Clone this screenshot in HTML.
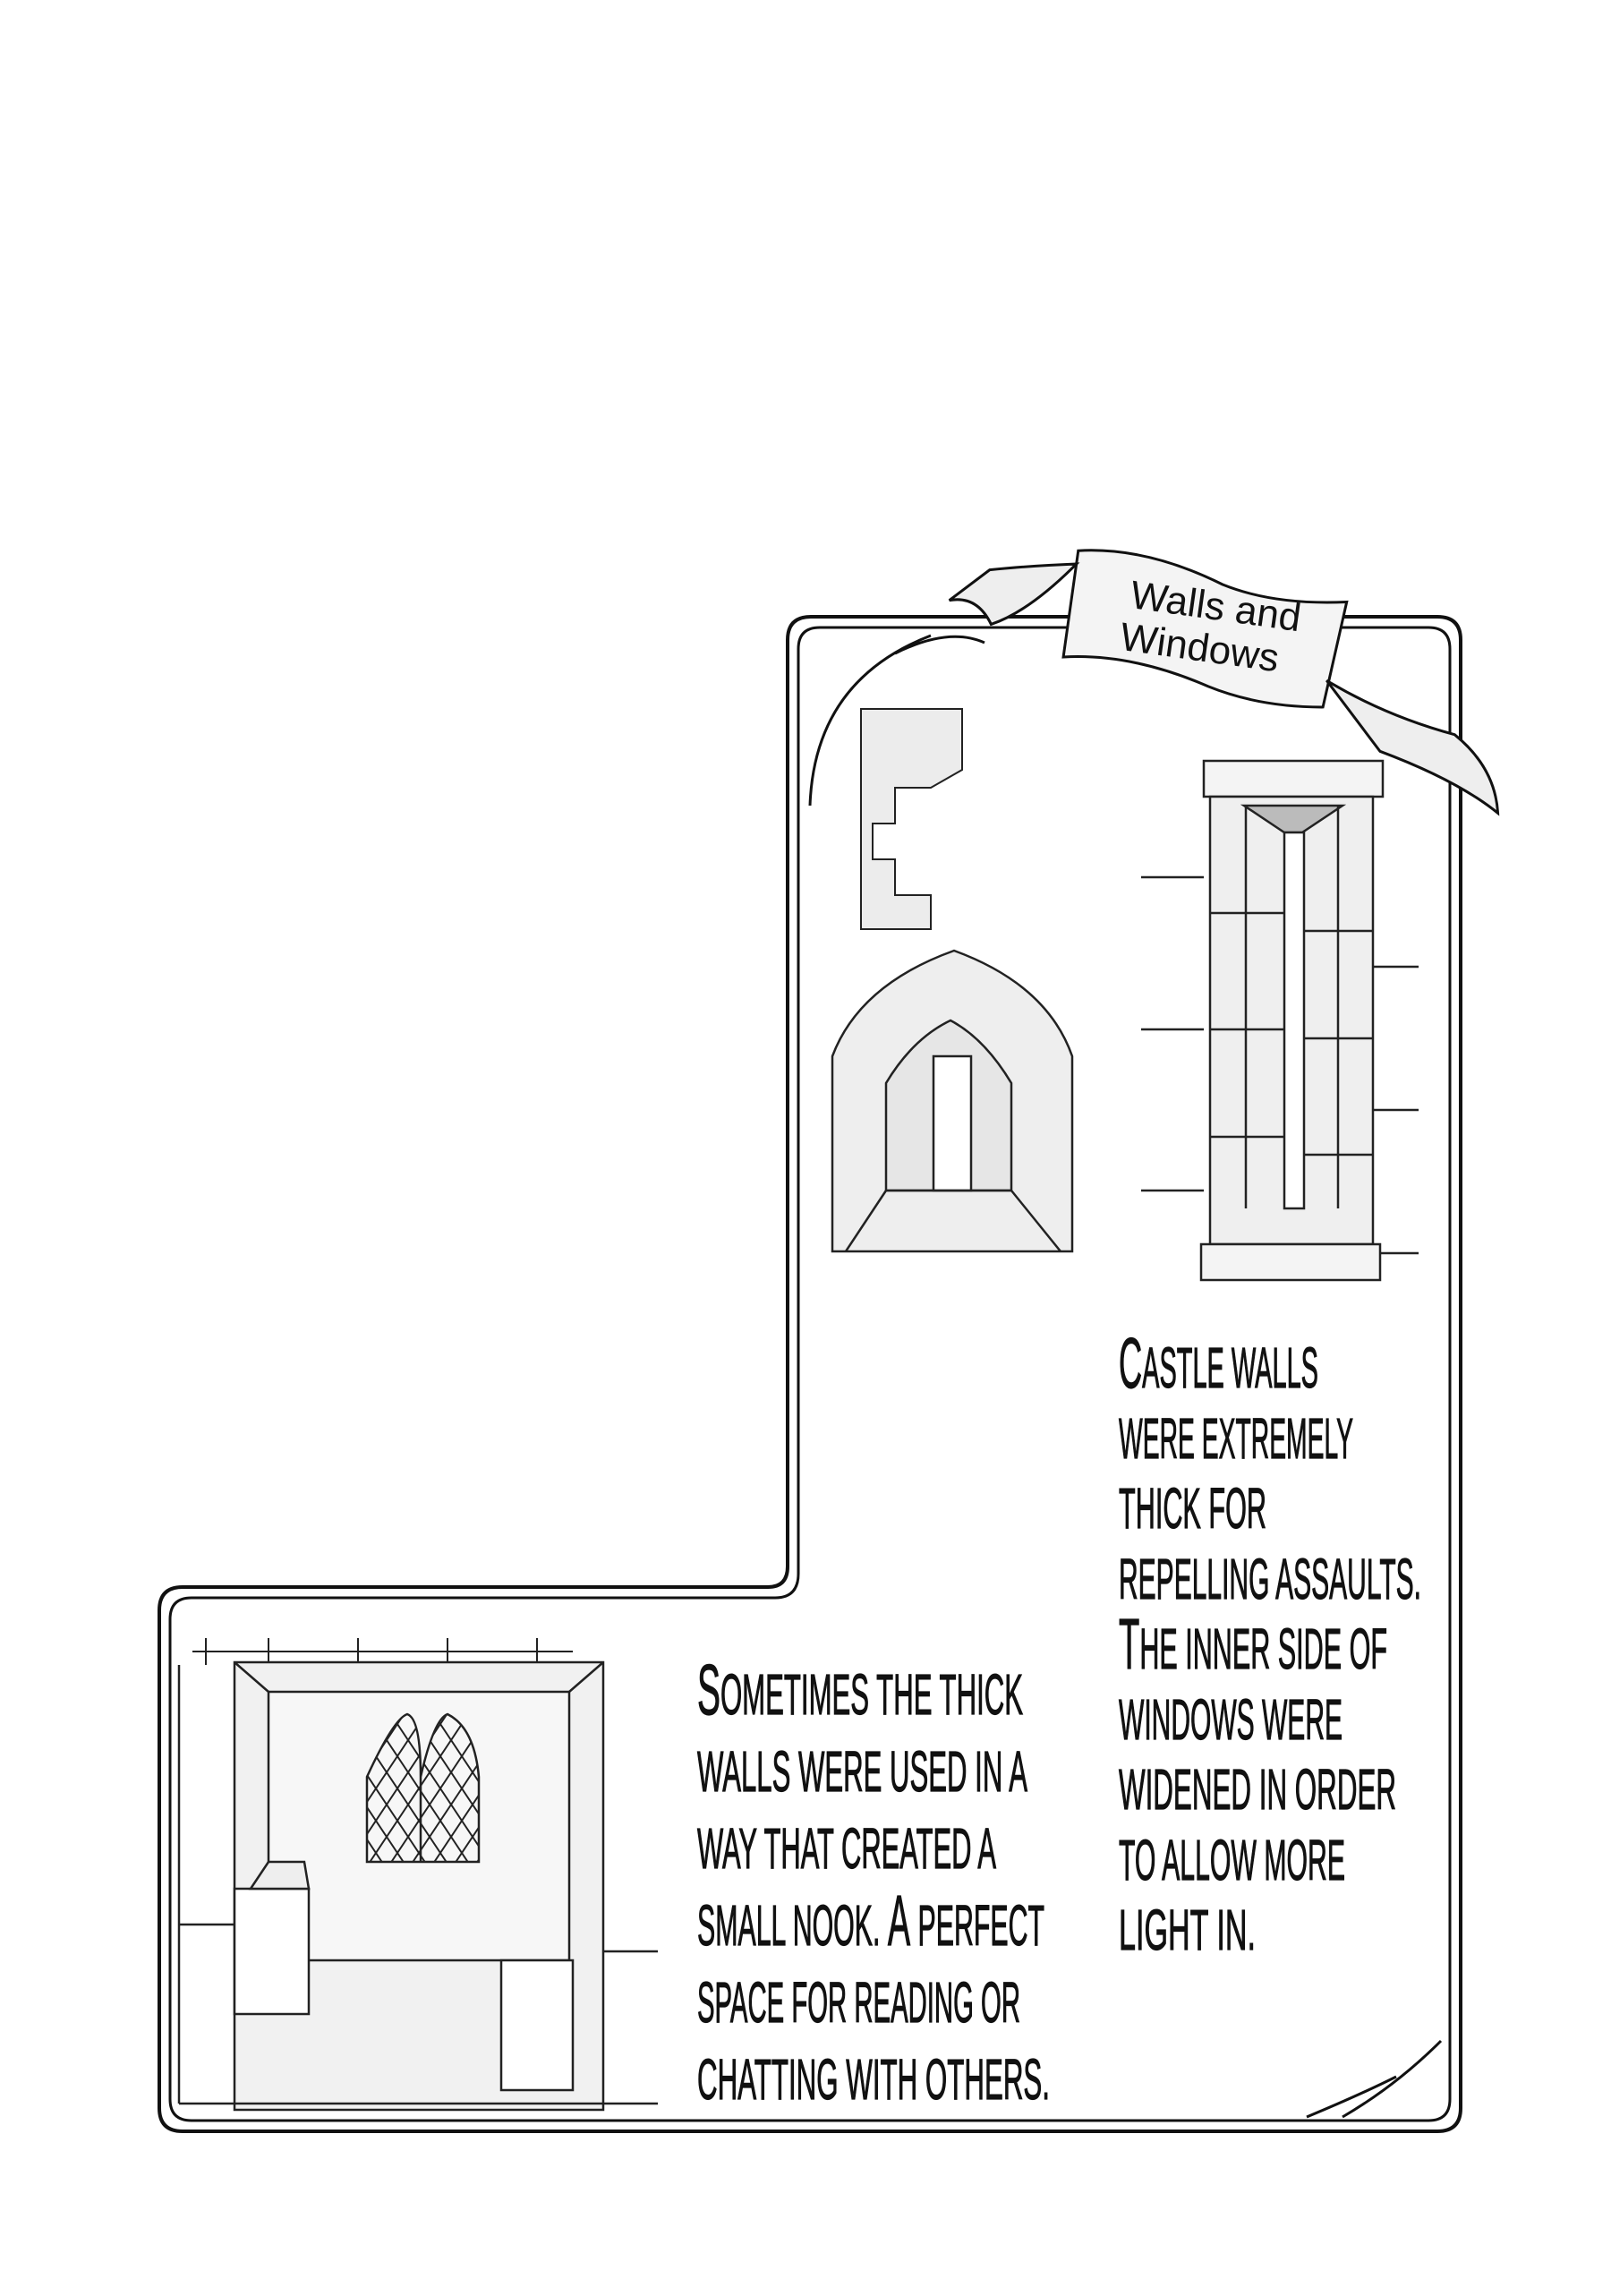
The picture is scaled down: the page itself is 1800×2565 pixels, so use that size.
<!DOCTYPE html>
<html><head><meta charset="utf-8"><style>
html,body{margin:0;padding:0;background:#fff}
svg{display:block}
.t{font-family:"Liberation Sans Narrow","Liberation Sans",sans-serif;fill:#111;stroke:#111;stroke-width:1.2}
.b{font-size:80px}
</style></head><body>
<svg width="1800" height="2565" viewBox="0 0 1800 2565" xmlns="http://www.w3.org/2000/svg">
<rect width="1800" height="2565" fill="#fff"/>
<defs>
<pattern id="lat" width="24" height="36" patternUnits="userSpaceOnUse"><path d="M0,0 L24,36 M24,0 L0,36" stroke="#222" stroke-width="2"/></pattern>
</defs>
<!-- frame -->
<g fill="none" stroke="#111">
<path d="M880,1750 V715 Q880,689 906,689 H1606 Q1632,689 1632,715 V2355 Q1632,2381 1606,2381 H204 Q178,2381 178,2355 V1799 Q178,1773 204,1773 H858 Q880,1773 880,1750 Z" stroke-width="4"/>
<path d="M892,1758 V725 Q892,701 916,701 H1596 Q1620,701 1620,725 V2345 Q1620,2369 1596,2369 H214 Q190,2369 190,2345 V1809 Q190,1785 214,1785 H866 Q892,1785 892,1758 Z" stroke-width="3"/>
<path d="M905,900 Q910,760 1040,710 M1000,730 Q1060,700 1100,718 M1500,2365 Q1560,2330 1610,2280 M1460,2365 Q1520,2340 1560,2320" stroke-width="3"/>
</g>
<!-- banner -->
<g transform="rotate(8 1270 690)">
<path d="M1195,625 Q1270,610 1360,640 Q1420,655 1500,640 L1490,760 Q1420,770 1360,755 Q1270,730 1195,745 Z" fill="#f4f4f4" stroke="#111" stroke-width="3"/>
<path d="M1195,640 Q1150,700 1110,720 Q1090,690 1060,700 L1100,660 Q1140,650 1195,640Z M1490,730 Q1560,760 1640,770 Q1690,800 1700,850 Q1650,820 1560,800Z" fill="#eee" stroke="#111" stroke-width="3"/>
<text x="1260" y="680" font-family="Liberation Sans,sans-serif" font-size="44" fill="#111">Walls and</text>
<text x="1255" y="728" font-family="Liberation Sans,sans-serif" font-size="44" fill="#111">Windows</text>
</g>
<!-- small fragment -->
<g fill="#ececec" stroke="#222" stroke-width="2">
<path d="M962,792 H1075 V860 L1040,880 H1000 V920 H975 V960 H1000 V1000 H1040 V1038 H962 Z"/>
</g>
<!-- arch window -->
<g stroke="#222" stroke-width="2.5">
<path d="M930,1398 V1180 Q960,1100 1066,1062 Q1170,1100 1198,1180 V1398 Z" fill="#eeeeee"/>
<path d="M990,1330 V1210 Q1020,1160 1062,1140 Q1100,1160 1130,1210 V1330 Z" fill="#e6e6e6"/>
<rect x="1043" y="1180" width="42" height="150" fill="#fff"/>
<path d="M990,1330 L945,1398 M1130,1330 L1185,1398 M990,1330 H1130" fill="none"/>
</g>
<!-- slit window -->
<g stroke="#222" stroke-width="2.5" fill="none">
<path d="M1275,980 H1345 M1275,1150 H1345 M1275,1330 H1345 M1520,1080 H1585 M1520,1240 H1585 M1520,1400 H1585"/>
<rect x="1345" y="850" width="200" height="40" fill="#f4f4f4"/>
<rect x="1352" y="890" width="182" height="500" fill="#efefef"/>
<path d="M1390,900 H1500 L1455,930 H1435 Z" fill="#bbb"/>
<rect x="1435" y="930" width="22" height="420" fill="#fff"/>
<path d="M1352,1020 H1435 M1352,1150 H1435 M1352,1270 H1435 M1457,1040 H1534 M1457,1160 H1534 M1457,1290 H1534 M1392,900 V1350 M1495,900 V1350"/>
<rect x="1342" y="1390" width="200" height="40" fill="#f4f4f4"/>
</g>
<!-- nook -->
<g stroke="#222" stroke-width="2.5">
<path d="M230,1830 V1860 M300,1830 V1860 M400,1830 V1860 M500,1830 V1860 M600,1830 V1860 M215,1845 H640" fill="none" stroke-width="2"/>
<rect x="262" y="1857" width="412" height="500" fill="#f1f1f1"/>
<rect x="300" y="1890" width="336" height="300" fill="#f7f7f7"/>
<path d="M262,1857 L300,1890 M674,1857 L636,1890" fill="none"/>
<path d="M410,2080 V1985 Q440,1920 455,1915 Q470,1920 470,1985 V2080 Z M470,2080 V1985 Q485,1920 500,1915 Q530,1930 535,1985 V2080 Z" fill="url(#lat)"/>
<path d="M262,2110 H345 V2250 H262 Z M560,2190 H640 V2335 H560 Z" fill="#fff"/>
<path d="M200,2150 H262 M674,2180 H735 M200,2350 H735 M200,1860 V2350" fill="none"/>
<path d="M280,2110 L300,2080 H340 L345,2110Z" fill="#eee"/>
</g>
<!-- text -->
<g class="t" font-size="64">
<text x="779" y="1915" textLength="364" lengthAdjust="spacingAndGlyphs"><tspan class="b">S</tspan>OMETIMES THE THICK</text>
<text x="779" y="2001" textLength="369" lengthAdjust="spacingAndGlyphs">WALLS WERE USED IN A</text>
<text x="779" y="2087" textLength="334" lengthAdjust="spacingAndGlyphs">WAY THAT CREATED A</text>
<text x="779" y="2173" textLength="388" lengthAdjust="spacingAndGlyphs">SMALL NOOK. <tspan class="b">A</tspan> PERFECT</text>
<text x="779" y="2259" textLength="361" lengthAdjust="spacingAndGlyphs">SPACE FOR READING OR</text>
<text x="779" y="2345" textLength="394" lengthAdjust="spacingAndGlyphs">CHATTING WITH OTHERS.</text>
<text x="1250" y="1550" textLength="223" lengthAdjust="spacingAndGlyphs"><tspan class="b">C</tspan>ASTLE WALLS</text>
<text x="1250" y="1629" textLength="262" lengthAdjust="spacingAndGlyphs">WERE EXTREMELY</text>
<text x="1250" y="1707" textLength="165" lengthAdjust="spacingAndGlyphs">THICK FOR</text>
<text x="1250" y="1786" textLength="338" lengthAdjust="spacingAndGlyphs">REPELLING ASSAULTS.</text>
<text x="1250" y="1864" textLength="300" lengthAdjust="spacingAndGlyphs"><tspan class="b">T</tspan>HE INNER SIDE OF</text>
<text x="1250" y="1943" textLength="250" lengthAdjust="spacingAndGlyphs">WINDOWS WERE</text>
<text x="1250" y="2021" textLength="310" lengthAdjust="spacingAndGlyphs">WIDENED IN ORDER</text>
<text x="1250" y="2100" textLength="253" lengthAdjust="spacingAndGlyphs">TO ALLOW MORE</text>
<text x="1250" y="2178" textLength="153" lengthAdjust="spacingAndGlyphs">LIGHT IN.</text>
</g>
</svg>
</body></html>
